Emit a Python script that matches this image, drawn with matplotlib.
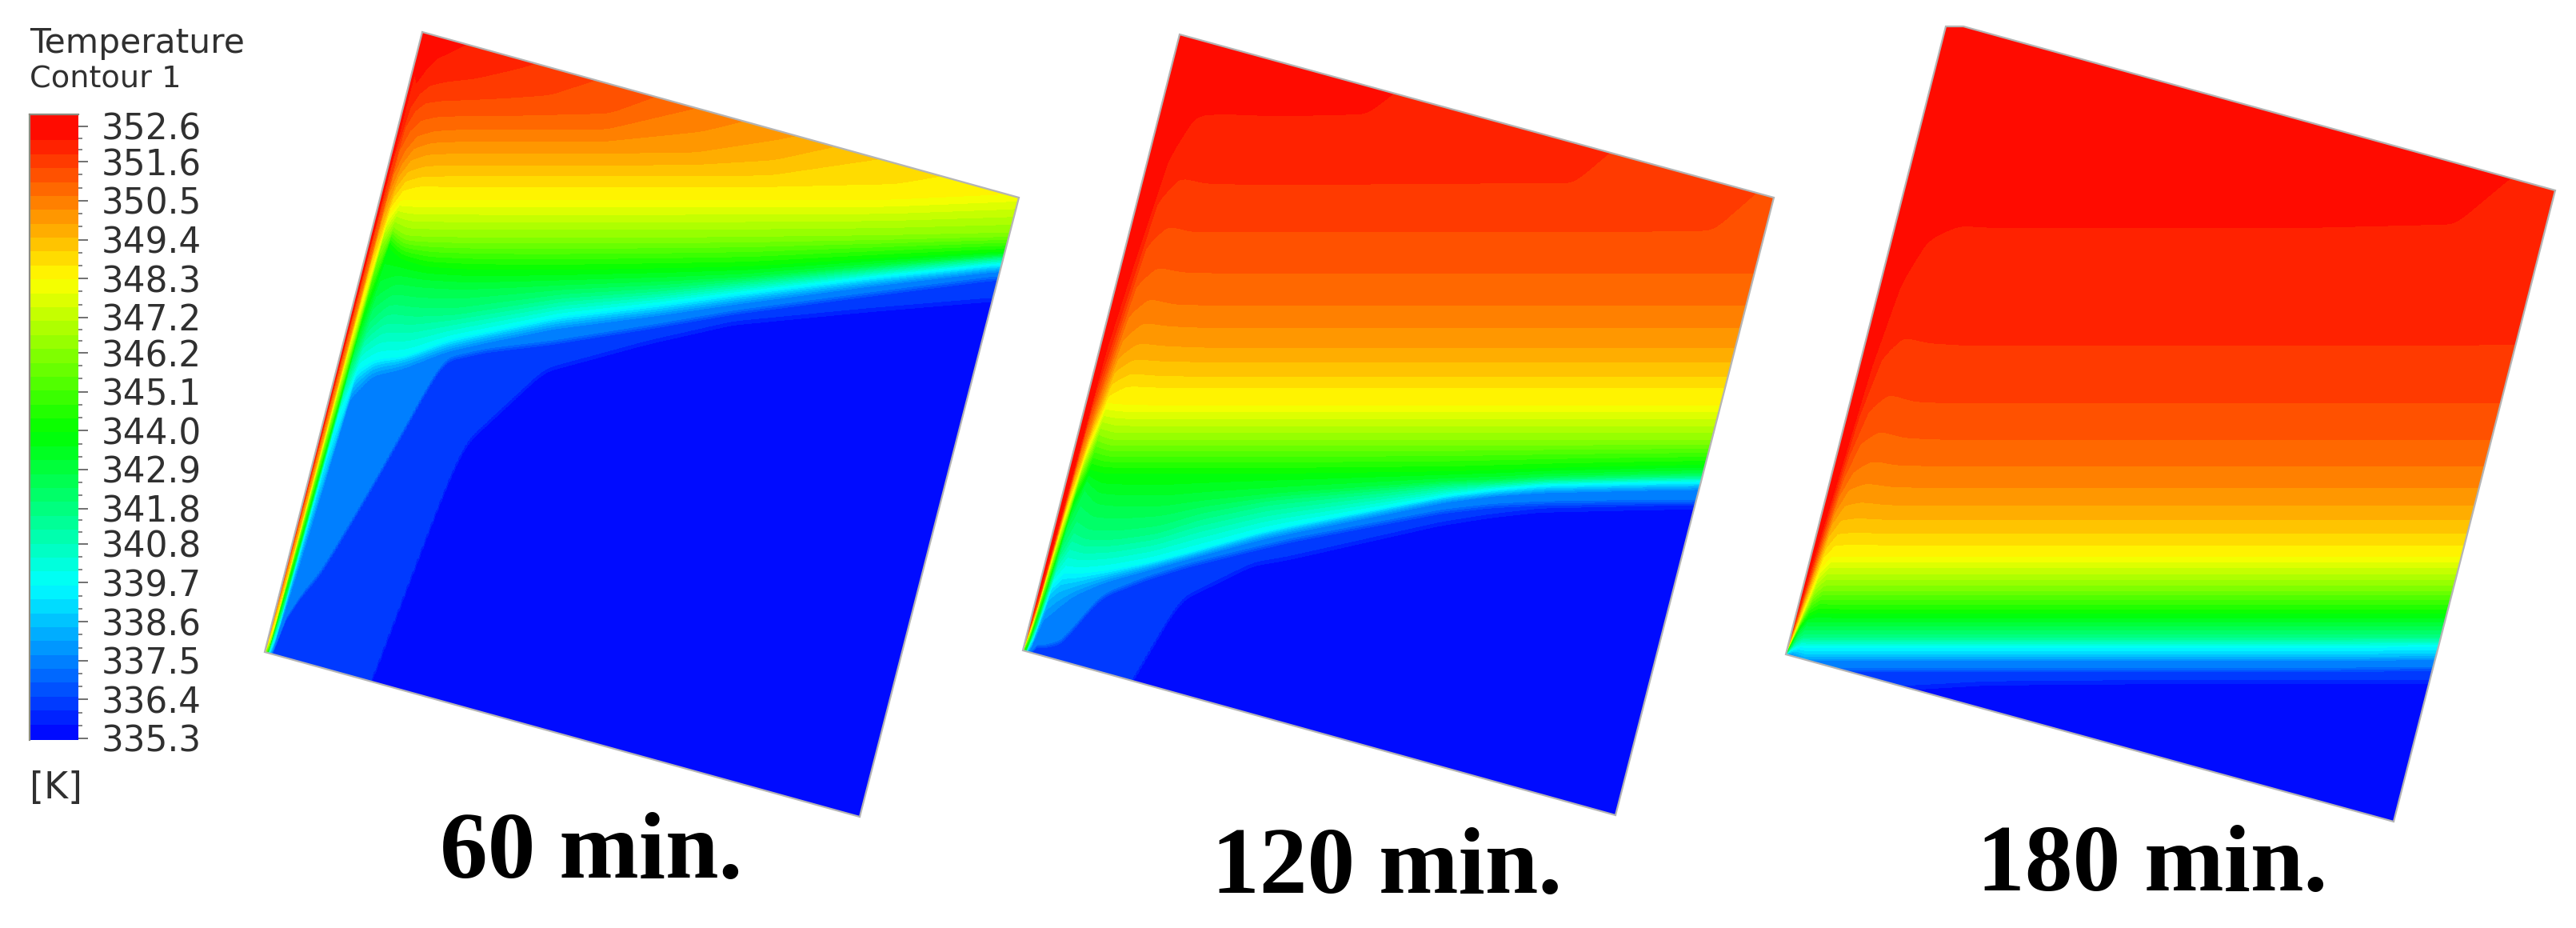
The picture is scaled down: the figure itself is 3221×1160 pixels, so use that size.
import numpy as np
import matplotlib
matplotlib.use("Agg")
import matplotlib.pyplot as plt
from matplotlib.colors import LinearSegmentedColormap, Normalize
from matplotlib.patches import Polygon
from matplotlib.transforms import ScaledTranslation

TITLE = ["Temperature", "Contour 1"]
UNIT = "[K]"
TICK_VALUES = [352.6, 351.6, 350.5, 349.4, 348.3, 347.2, 346.2, 345.1, 344.0,
               342.9, 341.8, 340.8, 339.7, 338.6, 337.5, 336.4, 335.3]
T_MIN, T_MAX = 335.3, 352.6
N_BANDS = 44
PANEL_LABELS = ["60 min.", "120 min.", "180 min."]

P1_CORNERS = [(528, 40), (1274, 247), (1075, 1021), (331, 815)]
P2_CORNERS = [(1475, 43), (2218, 247), (2020, 1019), (1279, 813)]
P3_CORNERS = [(2433, 33), (2455, 33), (3195, 238), (2993, 1027), (2233, 818)]

# Image height of each isotherm (one list per distance from the hot wall).
P1_DIST = [0, 4, 9, 16, 26, 45, 80, 130, 180, 260, 380, 480, 640, 790, 950]
P1_TEMPS = [352.2, 351.8, 351.4, 351.0, 350.6, 350.0, 349.3, 348.7, 348.28, 346.2, 344.0,
            342.9, 341.8, 339.7, 338.6, 337.65, 337.3, 336.45, 336.1, 335.65, 335.4]
P1_COLS = [
    [812, 813, 814, 815, 816, 817, 818, 819, 820, 822, 825, 826, 827, 828, 829, 829.5, 830, 830.5, 831, 831.5, 861],
    [100, 200, 300, 400, 500, 620, 710, 750, 775, 800, 815, 818, 822, 828, 832, 835, 838, 840, 842, 848, 878],
    [110, 135, 160, 190, 220, 260, 310, 360, 400, 540, 680, 720, 750, 790, 805, 815, 820, 826, 837, 843, 873],
    [95, 118, 140, 165, 190, 215, 240, 258, 270, 310, 400, 440, 470, 530, 640, 700, 770, 776, 822, 828, 858],
    [80, 108, 130, 152, 172, 195, 220, 237, 250, 285, 305, 365, 410, 462, 480, 500, 745, 751, 822, 828, 858],
    [70, 103, 127, 147, 165, 187, 213, 231, 249, 297, 322, 350, 385, 448, 458, 470, 712, 718, 827, 833, 863],
    [48, 100, 126, 146, 163, 186, 212, 232, 249, 298, 332, 355, 390, 445, 452, 462, 610, 616, 847, 853, 883],
    [30, 88, 124, 146, 163, 186, 212, 232, 249, 299, 335, 358, 390, 424, 432, 440, 447, 453, 947, 953, 983],
    [20, 72, 121, 145, 163, 186, 212, 232, 249, 299, 336, 357, 382, 413, 420, 428, 435, 441, 557, 563, 593],
    [10, 50, 92, 145, 163, 186, 212, 232, 249, 299, 336, 354, 370, 395, 403, 411, 425, 431, 460, 466, 496],
    [5, 40, 70, 95, 135, 184, 212, 232, 249, 299, 334, 350, 362, 380, 388, 395, 405, 411, 425, 431, 461],
    [0, 30, 60, 80, 100, 164, 210, 232, 249, 298, 332, 345, 352, 366, 373, 380, 387, 393, 401, 407, 437],
    [-3, 20, 45, 65, 85, 130, 172, 228, 249, 296, 322, 331, 336, 346, 352, 358, 365, 371, 385, 391, 421],
    [-5, 10, 40, 60, 80, 120, 160, 200, 242, 293, 314, 319, 322, 330, 335, 340, 345, 351, 372, 378, 408],
    [-10, 0, 20, 40, 60, 100, 140, 190, 225, 290, 312, 317, 320, 326, 331, 336, 340, 346, 367, 373, 403],
]

P2_DIST = [0, 4, 9, 16, 26, 45, 80, 130, 180, 260, 300, 480, 540, 600, 730, 790, 950]
P2_TEMPS = [352.2, 351.81, 351.42, 351.03, 350.64, 350.25, 349.85, 349.46, 349.07, 348.67, 348.28,
            346.2, 344.0, 342.9, 341.8, 339.7, 338.6, 337.65, 337.3, 336.45, 336.1, 335.65, 335.4]
P2_COLS = [
    [800, 802, 804, 806, 807, 808, 809, 810, 811, 812, 813, 815, 818, 819, 820, 821, 822, 822.5, 823, 823.5, 825, 825.5, 855],
    [700, 725, 735, 745, 752, 758, 762, 766, 770, 773, 775, 790, 805, 812, 815, 815, 820, 821, 822, 824, 828, 830, 860],
    [450, 490, 520, 540, 565, 585, 600, 615, 630, 640, 650, 700, 750, 765, 780, 795, 805, 810, 815, 820, 828, 833, 863],
    [340, 400, 440, 470, 490, 510, 525, 535, 545, 555, 565, 595, 625, 650, 690, 730, 745, 775, 805, 810, 832, 838, 868],
    [210, 255, 310, 358, 395, 425, 448, 465, 480, 495, 503, 545, 585, 605, 660, 715, 735, 765, 805, 810, 837, 843, 873],
    [152, 222, 282, 333, 372, 402, 428, 448, 466, 482, 505, 552, 590, 625, 670, 716, 730, 745, 800, 806, 847, 853, 883],
    [150, 230, 290, 340, 380, 407, 432, 451, 469, 484, 506, 552, 590, 628, 670, 712, 720, 728, 742, 748, 877, 883, 913],
    [152, 231, 290, 341, 381, 409, 434, 452, 470, 484, 506, 552, 590, 628, 663, 702, 707, 713, 720, 726, 897, 903, 933],
    [152, 231, 290, 341, 381, 409, 434, 452, 470, 484, 506, 552, 590, 622, 645, 688, 693, 698, 703, 709, 747, 753, 783],
    [150, 231, 290, 341, 381, 409, 434, 452, 470, 484, 506, 552, 590, 615, 628, 664, 669, 675, 682, 688, 702, 708, 738],
    [110, 231, 290, 341, 381, 409, 434, 452, 470, 484, 506, 552, 590, 612, 624, 655, 660, 666, 672, 678, 695, 701, 731],
    [80, 230, 290, 341, 381, 409, 434, 452, 470, 484, 506, 552, 588, 600, 606, 619, 623, 628, 636, 642, 652, 658, 688],
    [70, 230, 290, 341, 381, 409, 434, 452, 470, 484, 506, 552, 586, 598, 603, 611, 616, 620, 629, 635, 642, 648, 678],
    [60, 165, 290, 341, 381, 409, 434, 452, 470, 484, 506, 552, 584, 594, 599, 606, 611, 616, 626, 632, 635, 641, 671],
    [50, 120, 288, 341, 381, 409, 434, 452, 470, 484, 506, 552, 581, 591, 596, 603, 608, 613, 624, 630, 632, 638, 668],
    [50, 115, 220, 341, 381, 409, 434, 452, 470, 484, 506, 552, 580, 590, 595, 602, 607, 612, 624, 630, 631, 637, 667],
    [30, 90, 200, 341, 381, 409, 434, 452, 470, 484, 506, 552, 578, 588, 593, 600, 605, 610, 622, 628, 629, 635, 665],
]

P3_DIST = [0, 4, 9, 16, 26, 45, 80, 130, 260, 500, 700, 765, 950]
P3_TEMPS = P2_TEMPS
P3_COLS = [
    [800, 802, 804, 806, 807, 808, 809, 810, 811, 812, 813, 814, 815, 816, 817, 818, 819, 820, 821, 821.5, 824, 826, 856],
    [720, 730, 745, 755, 762, 768, 773, 778, 782, 786, 790, 795, 800, 805, 809, 813, 816, 818, 821, 824, 835, 842, 872],
    [620, 640, 665, 685, 700, 712, 722, 732, 742, 750, 758, 772, 783, 790, 800, 810, 815, 820, 825, 830, 855, 862, 892],
    [470, 520, 570, 600, 620, 640, 655, 670, 685, 697, 710, 745, 770, 780, 795, 808, 817, 822, 830, 836, 865, 872, 902],
    [370, 450, 515, 555, 590, 612, 632, 650, 667, 682, 695, 734, 765, 781, 795, 809, 820, 826, 834, 840, 865, 872, 902],
    [310, 422, 492, 538, 575, 603, 627, 647, 665, 680, 695, 734, 766, 781, 795, 809, 820, 826, 834, 840, 865, 872, 902],
    [292, 430, 502, 547, 581, 608, 631, 649, 666, 681, 695, 734, 766, 781, 795, 809, 820, 826, 834, 840, 863, 870, 900],
    [295, 433, 504, 549, 582, 609, 631, 649, 666, 681, 695, 734, 766, 781, 795, 809, 820, 826, 834, 840, 858, 865, 895],
    [295, 433, 504, 549, 582, 609, 631, 649, 666, 681, 695, 734, 766, 781, 795, 809, 820, 826, 834, 840, 851, 857, 887],
    [295, 433, 504, 549, 582, 609, 631, 649, 666, 681, 695, 734, 766, 781, 795, 809, 820, 826, 834, 840, 849, 855, 885],
    [290, 433, 504, 549, 582, 609, 631, 649, 666, 681, 695, 734, 766, 781, 795, 809, 820, 826, 834, 840, 849, 855, 885],
    [220, 433, 504, 549, 582, 609, 631, 649, 666, 681, 695, 734, 766, 781, 795, 808, 819, 825, 833, 839, 849, 855, 885],
    [100, 433, 504, 549, 582, 609, 631, 649, 666, 681, 695, 734, 766, 781, 795, 807, 818, 824, 832, 838, 849, 855, 885],
]

LABEL_POS = [(550, 1097), (1515, 1116), (2472, 1113)]

cmap = LinearSegmentedColormap.from_list(
    "fluent", ["#0000ff", "#00ffff", "#00ff00", "#ffff00", "#ff0000"], N=1024)
norm = Normalize(T_MIN, T_MAX)
levels = np.linspace(T_MIN, T_MAX, N_BANDS + 1)

W, H = 3221, 1160
fig = plt.figure(figsize=(W / 100, H / 100), dpi=100, facecolor="white")
ax = fig.add_axes([0, 0, 1, 1])
ax.set_xlim(0, W)
ax.set_ylim(H, 0)
ax.axis("off")


def field(dist, temps, cols, wall_top, wall_bot):
    dist = np.asarray(dist, float)
    iso = np.asarray(cols, float).T
    temps = np.asarray(temps, float)
    d_f = np.concatenate([np.arange(0, 30, 0.5), np.arange(30, 951, 2.0)])
    y_f = np.arange(-5, 1060, 1.0)
    lev = np.array([np.interp(d_f, dist, row) for row in iso])
    # soften the joints between read-off columns away from the wall
    k = np.hanning(21)
    k /= k.sum()
    pad = np.pad(lev, ((0, 0), (10, 10)), mode="edge")
    sm = np.array([np.convolve(r, k, mode="valid") for r in pad])
    w = np.clip((d_f - 20) / 40, 0, 1)
    lev = lev * (1 - w) + sm * w
    lev = np.maximum.accumulate(lev, axis=0)
    T = np.empty((y_f.size, d_f.size))
    for j in range(d_f.size):
        ys = np.concatenate([[-300.0], lev[:, j] + 1e-3 * np.arange(len(temps))])
        ts = np.concatenate([[T_MAX], temps])
        T[:, j] = np.interp(y_f, ys, ts)
    (xt, yt), (xb, yb) = wall_top, wall_bot
    xw = xb + (yb - y_f) * (xt - xb) / (yb - yt)
    X = xw[:, None] + d_f[None, :]
    Y = np.repeat(y_f[:, None], d_f.size, axis=1)
    return X, Y, T


panels = [
    (P1_CORNERS, P1_DIST, P1_TEMPS, P1_COLS),
    (P2_CORNERS, P2_DIST, P2_TEMPS, P2_COLS),
    (P3_CORNERS, P3_DIST, P3_TEMPS, P3_COLS),
]
for (corners, dist, temps, cols), label, (lx, ly) in zip(panels, PANEL_LABELS, LABEL_POS):
    X, Y, T = field(dist, temps, cols, corners[0], corners[-1])
    clip = Polygon(corners, closed=True, transform=ax.transData, facecolor="none",
                   edgecolor="#b4b4b4", lw=1.6, zorder=3)
    ax.add_patch(clip)
    cs = ax.contourf(X, Y, T, levels=levels, cmap=cmap, norm=norm, extend="both", zorder=2)
    cs.set_clip_path(clip)
    ax.text(lx, ly, label, family="Liberation Serif", weight="bold", fontsize=86,
            color="black", ha="left", va="baseline")

# colour bar
BAR_X0, BAR_X1, BAR_Y0, BAR_Y1 = 37, 98, 143, 925
TICK_Y_TOP, TICK_Y_BOT = 158, 923
k = (T_MAX - T_MIN) / (TICK_Y_BOT - TICK_Y_TOP)
v_top = T_MAX + (TICK_Y_TOP - BAR_Y0) * k
v_bot = T_MIN - (BAR_Y1 - TICK_Y_BOT) * k
cax = fig.add_axes([BAR_X0 / W, 1 - BAR_Y1 / H, (BAR_X1 - BAR_X0) / W, (BAR_Y1 - BAR_Y0) / H])
edges = np.concatenate([[v_bot], levels[1:-1], [v_top]])
mids = 0.5 * (levels[:-1] + levels[1:])
cax.pcolormesh([0, 1], edges, mids[:, None], cmap=cmap, norm=norm)
cax.set_ylim(v_bot, v_top)
cax.set_xticks([])
cax.yaxis.tick_right()
cax.set_yticks(TICK_VALUES)
cax.set_yticklabels([f"{v:.1f}" for v in TICK_VALUES], family="DejaVu Sans", fontsize=31.5,
                    color="#303030")
shift = ScaledTranslation(0, -5 / 100, fig.dpi_scale_trans)
for lab in cax.get_yticklabels():
    lab.set_transform(lab.get_transform() + shift)
minor = []
for a, b in zip(TICK_VALUES[:-1], TICK_VALUES[1:]):
    minor += [b + (a - b) * f for f in (1 / 3, 2 / 3)]
cax.set_yticks(minor, minor=True)
cax.tick_params(axis="y", which="major", length=8.6, width=1.4, color="#707070", pad=12)
cax.tick_params(axis="y", which="minor", length=3.6, width=1.2, color="#707070")
for name, s in cax.spines.items():
    s.set_visible(name in ("left", "top"))
    s.set_color("#8c8c80")
    s.set_linewidth(1.6)

ax.text(37, 66, TITLE[0], family="DejaVu Sans", fontsize=30.5, color="#303030", va="baseline")
ax.text(37, 110, TITLE[1], family="DejaVu Sans", fontsize=27.5, color="#303030", va="baseline")
ax.text(37, 998, UNIT, family="DejaVu Sans", fontsize=33, color="#303030", va="baseline")

fig.savefig("out.png", dpi=100, facecolor="white")
